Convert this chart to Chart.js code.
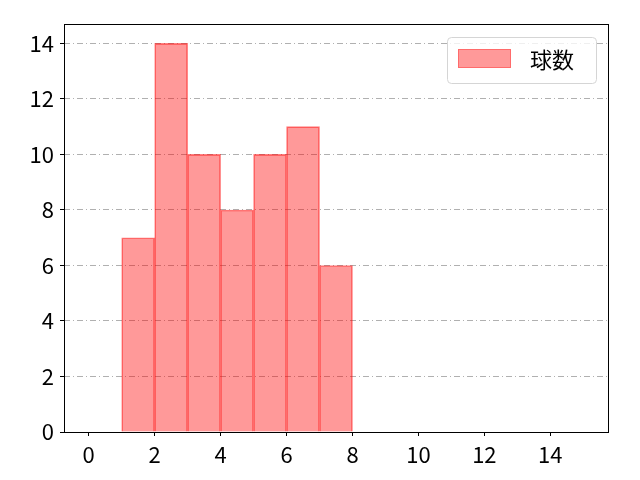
<!DOCTYPE html>
<html>
<head>
<meta charset="utf-8">
<script src="https://cdn.jsdelivr.net/npm/chart.js@4.4.0/dist/chart.umd.min.js"></script>
<style>
  html, body { margin: 0; padding: 0; background: #fff; }
  #wrap { width: 640px; height: 480px; }
</style>
</head>
<body>
<div id="wrap"><canvas id="myChart"></canvas></div>
<script>
// histogram data
var binEdges = [1, 2, 3, 4, 5, 6, 7, 8];
var counts = [7, 14, 10, 8, 10, 11, 6];
var seriesLabel = '球数';
var xTicks = [0, 2, 4, 6, 8, 10, 12, 14];
var yTicks = [0, 2, 4, 6, 8, 10, 12, 14];

var FONT = '"Noto Sans CJK JP", "Noto Sans", sans-serif';

var points = [];
for (var i = 0; i < counts.length; i++) {
    points.push({ x: (binEdges[i] + binEdges[i + 1]) / 2, y: counts[i] });
}

// black frame around the plot area
var framePlugin = {
    id: 'frame',
    afterDatasetsDraw: function (chart) {
        var a = chart.chartArea, ctx = chart.ctx;
        ctx.save();
        ctx.strokeStyle = '#000';
        ctx.lineWidth = 1;
        ctx.strokeRect(a.left + 0.5, a.top + 0.5, a.right - a.left, a.bottom - a.top);
        ctx.restore();
    }
};

// matplotlib style legend box in the upper right
var legendPlugin = {
    id: 'mplLegend',
    afterDraw: function (chart) {
        var a = chart.chartArea, ctx = chart.ctx;
        var ds = chart.data.datasets[0];
        var w = 149, h = 46;
        var x = a.right - 12 - w, y = a.top + 13;
        ctx.save();
        ctx.beginPath();
        ctx.roundRect(x + 0.5, y + 0.5, w, h, 4);
        ctx.fillStyle = 'rgba(255,255,255,0.8)';
        ctx.fill();
        ctx.strokeStyle = '#d5d5d5';
        ctx.lineWidth = 1;
        ctx.stroke();
        ctx.fillStyle = ds.backgroundColor;
        ctx.fillRect(x + 11, y + 12, 53, 19);
        ctx.strokeStyle = 'rgba(255, 0, 0, 0.3)';
        ctx.strokeRect(x + 11.5, y + 12.5, 52, 18);
        ctx.fillStyle = '#000';
        ctx.font = '22px ' + FONT;
        ctx.textBaseline = 'middle';
        ctx.fillText(ds.label, x + 83, y + 23);
        ctx.restore();
    }
};

var ctx = document.getElementById('myChart');
var myChart = new Chart(ctx, {
    type: 'bar',
    data: {
        datasets: [{
            label: seriesLabel,
            data: points,
            backgroundColor: 'rgba(255, 0, 0, 0.4)',
            borderColor: 'rgba(255, 0, 0, 0.5)',
            borderWidth: 1,
            barPercentage: 1.0,
            categoryPercentage: 1.0
        }]
    },
    options: {
        responsive: true,
        maintainAspectRatio: false,
        animation: false,
        layout: { padding: { top: 24, right: 32, left: 0, bottom: 0 } },
        plugins: {
            legend: { display: false },
            tooltip: { enabled: false }
        },
        scales: {
            x: {
                type: 'linear',
                min: -0.75,
                max: 15.75,
                offset: false,
                afterFit: function (s) { s.height = 48; },
                afterBuildTicks: function (s) {
                    s.ticks = xTicks.map(function (v) { return { value: v }; });
                },
                grid: {
                    offset: false,
                    drawOnChartArea: false,
                    drawTicks: true,
                    tickLength: 4,
                    tickColor: '#000',
                    tickWidth: 1
                },
                border: { display: false },
                ticks: {
                    color: '#000',
                    padding: 5,
                    maxRotation: 0,
                    font: { family: FONT, size: 22 }
                }
            },
            y: {
                type: 'linear',
                min: 0,
                max: 14.7,
                afterFit: function (s) { s.width = 64; },
                afterBuildTicks: function (s) {
                    s.ticks = yTicks.map(function (v) { return { value: v }; });
                },
                grid: {
                    color: '#b0b0b0',
                    lineWidth: 1,
                    drawTicks: true,
                    tickLength: 4,
                    tickColor: '#000',
                    tickWidth: 1,
                    tickBorderDash: []
                },
                border: { display: false, dash: [6, 3, 1, 3] },
                ticks: {
                    color: '#000',
                    padding: 6,
                    font: { family: FONT, size: 22 }
                }
            }
        }
    },
    plugins: [framePlugin, legendPlugin]
});
</script>
</body>
</html>
